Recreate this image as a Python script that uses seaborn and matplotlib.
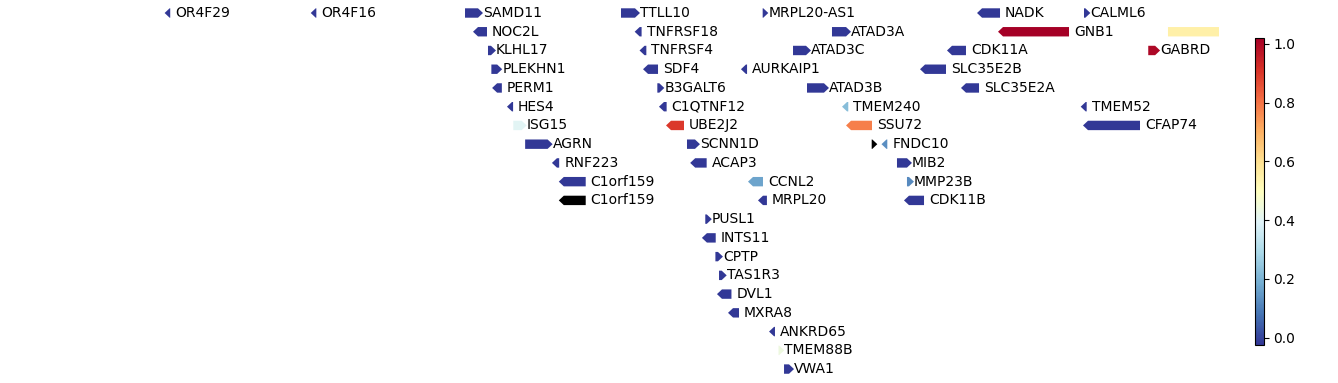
import numpy as np
import pandas as pd
import matplotlib
matplotlib.use("Agg")
import matplotlib.pyplot as plt
import seaborn as sns
from matplotlib.colors import Normalize
from matplotlib.cm import ScalarMappable

# ---- data (genomic positions in kb, chr1) ----
genes = ["OR4F29", "OR4F16", "SAMD11", "TTLL10", "MRPL20-AS1", "NADK", "CALML6",
         "NOC2L", "TNFRSF18", "ATAD3A", "GNB1", "PRKCZ",
         "KLHL17", "TNFRSF4", "ATAD3C", "CDK11A", "GABRD",
         "PLEKHN1", "SDF4", "AURKAIP1", "SLC35E2B",
         "PERM1", "B3GALT6", "ATAD3B", "SLC35E2A",
         "HES4", "C1QTNF12", "TMEM240", "TMEM52",
         "ISG15", "UBE2J2", "SSU72", "CFAP74",
         "AGRN", "SCNN1D", "", "FNDC10",
         "RNF223", "ACAP3", "MIB2",
         "C1orf159", "CCNL2", "MMP23B",
         "C1orf159", "MRPL20", "CDK11B",
         "PUSL1", "INTS11", "CPTP", "TAS1R3", "DVL1", "MXRA8",
         "ANKRD65", "TMEM88B", "VWA1"]
rows = [0, 0, 0, 0, 0, 0, 0,
        1, 1, 1, 1, 1,
        2, 2, 2, 2, 2,
        3, 3, 3, 3,
        4, 4, 4, 4,
        5, 5, 5, 5,
        6, 6, 6, 6,
        7, 7, 7, 7,
        8, 8, 8,
        9, 9, 9,
        10, 10, 10,
        11, 12, 13, 14, 15, 16,
        17, 18, 19]
strands = ["-", "-", "+", "+", "+", "-", "+",
           "-", "-", "+", "-", "+",
           "+", "-", "+", "-", "+",
           "+", "-", "-", "-",
           "-", "+", "+", "-",
           "-", "-", "-", "-",
           "+", "-", "-", "-",
           "+", "+", "+", "-",
           "-", "-", "+",
           "-", "-", "+",
           "-", "-", "-",
           "+", "-", "+", "+", "-", "-",
           "-", "+", "+"]
start_kb = [450.7, 684.7, 923.8, 1173.6, 1400.5, 1751.8, 1915.1,
            944.6, 1203.5, 1511.5, 1785.4, 2049.6,
            960.6, 1211.3, 1449.1, 1703.7, 2018.0,
            966.0, 1216.9, 1373.7, 1660.5,
            975.2, 1231.8, 1471.5, 1726.1,
            999.0, 1242.4, 1535.6, 1917.8,
            1001.1, 1253.7, 1542.0, 1921.5,
            1020.1, 1279.3, 1575.1, 1598.8,
            1071.0, 1292.4, 1615.6,
            1082.0, 1385.0, 1631.6,
            1082.0, 1401.0, 1634.8,
            1308.6, 1311.2, 1324.8, 1330.6, 1335.3, 1353.0,
            1418.7, 1425.9, 1434.7]
end_kb = [451.7, 685.7, 944.6, 1196.0, 1401.5, 1780.6, 1917.3,
          959.0, 1206.6, 1534.0, 1891.1, 2185.4,
          965.4, 1214.2, 1469.9, 1726.1, 2029.0,
          975.3, 1232.9, 1375.5, 1694.1,
          982.8, 1235.0, 1498.7, 1747.0,
          1000.8, 1246.7, 1537.6, 1919.4,
          1014.5, 1274.5, 1575.6, 2004.8,
          1056.1, 1292.1, 1576.1, 1600.1,
          1074.6, 1310.8, 1631.6,
          1117.1, 1401.0, 1634.8,
          1117.1, 1407.3, 1658.9,
          1311.0, 1325.3, 1328.9, 1334.9, 1350.5, 1362.6,
          1420.2, 1427.0, 1442.7]
score = [-0.02, -0.02, -0.02, -0.02, -0.02, -0.02, -0.02,
         -0.02, -0.02, -0.02, 1.02, 0.55,
         -0.02, -0.02, -0.02, -0.02, 1.0,
         -0.02, -0.02, -0.02, -0.02,
         -0.02, -0.02, -0.02, -0.02,
         -0.02, -0.02, 0.22, -0.02,
         0.40, 0.90, 0.78, -0.02,
         -0.02, -0.02, np.nan, 0.13,
         -0.02, -0.02, -0.02,
         -0.02, 0.17, 0.12,
         np.nan, -0.02, -0.02,
         -0.02, -0.02, -0.02, -0.02, -0.02, -0.02,
         -0.02, 0.44, -0.02]

df = pd.DataFrame({"gene": genes, "row": rows, "strand": strands,
                   "start": start_kb, "end": end_kb, "score": score})

# ---- style ----
sns.set_style("white")
plt.rcParams["font.family"] = ["DejaVu Sans"]
for k in ["text.color", "axes.labelcolor", "xtick.color", "ytick.color", "axes.edgecolor"]:
    plt.rcParams[k] = "black"

W, H = 1338, 383
fig = plt.figure(figsize=(W / 100, H / 100), dpi=100)

px_kb = 1.6015
ref_px, ref_kb = 478, 944.6
ax_right_px = 1219
ax = fig.add_axes([0, 0, ax_right_px / W, 1])
ax.set_xlim(ref_kb - ref_px * px_kb, ref_kb + (ax_right_px - ref_px) * px_kb)
row_px0, row_step = 13, 18.74
ax.set_ylim((H - row_px0) / row_step, -row_px0 / row_step)
ax.axis("off")

cmap = sns.color_palette("RdYlBu_r", as_cmap=True).with_extremes(bad="black")
norm = Normalize(vmin=-0.025, vmax=1.02)

head_len = 5 * px_kb
bar_w = 9.4 / row_step

for _, g in df.iterrows():
    col = cmap(norm(g["score"])) if not np.isnan(g["score"]) else "black"
    if g["strand"] == "+":
        x0, dx = g["start"], g["end"] - g["start"]
    else:
        x0, dx = g["end"], g["start"] - g["end"]
    ax.arrow(x0, g["row"], dx, 0, width=bar_w, head_width=bar_w,
             head_length=head_len, length_includes_head=False,
             color=col, lw=0, clip_on=True)
    if g["gene"]:
        ax.text(g["end"] + head_len, g["row"], g["gene"], fontsize=10,
                color="black", va="center", ha="left", clip_on=True)

cax = fig.add_axes([1255 / W, (H - 345) / H, 8.5 / W, 307 / H])
sm = ScalarMappable(norm=norm, cmap=cmap)
cb = fig.colorbar(sm, cax=cax)
cb.set_ticks([0.0, 0.2, 0.4, 0.6, 0.8, 1.0])
cb.ax.tick_params(labelsize=10, colors="black", length=3.5, width=0.8)
cb.outline.set_edgecolor("black")
cb.outline.set_linewidth(0.8)

fig.savefig("out.png", dpi=100)
